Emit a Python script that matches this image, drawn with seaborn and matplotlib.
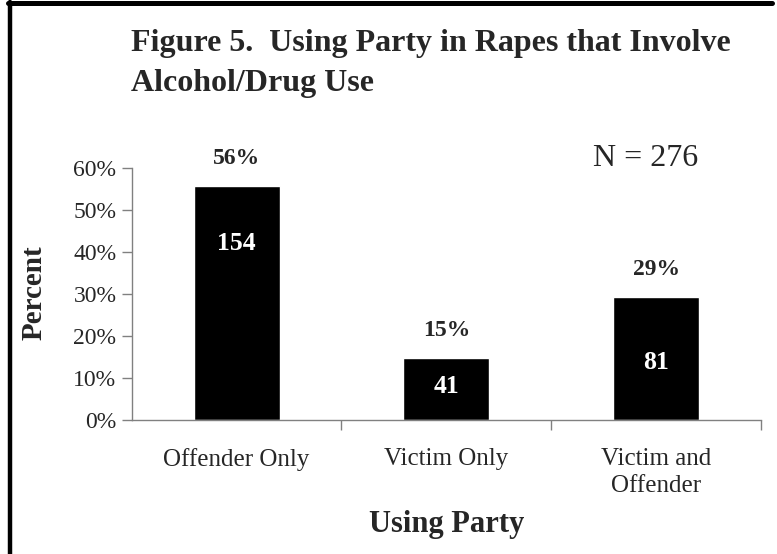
import numpy as np
import pandas as pd
import seaborn as sns
import matplotlib.pyplot as plt
from matplotlib.lines import Line2D

# data
categories = ["Offender Only", "Victim Only", "Victim and\nOffender"]
counts = [154, 41, 81]
n_total = 276
pct_labels = ["56%", "15%", "29%"]
count_label_y = [42.1, 7.9, 13.8]   # where the white count text sits (in %)

df = pd.DataFrame({"party": categories,
                   "percent": [c / n_total * 100 for c in counts]})

sns.set_style("white")
plt.rcParams["font.family"] = ["Liberation Serif", "DejaVu Serif"]

fig = plt.figure(figsize=(7.77, 5.54), dpi=100)
ax = fig.add_axes([131.7 / 777, 134 / 554, (761 - 131.7) / 777, 252 / 554])

sns.barplot(data=df, x="party", y="percent", color="black", width=0.41,
            saturation=1, ax=ax)

ax.set_xlim(-0.5, 2.5)
ax.set_ylim(0, 60)
ax.set_yticks(np.arange(0, 61, 10))
ax.set_yticklabels([f"{v}%" for v in range(0, 61, 10)], fontsize=17)
ax.tick_params(axis="y", direction="out", length=7, width=1, color="#808080",
               left=True, pad=4)
ax.set_xticks(range(3))
ax.set_xticklabels(categories, fontsize=18, linespacing=1.28)
ax.tick_params(axis="x", length=0, pad=20)
ax.set_xticks([0.5, 1.5, 2.5], minor=True)
ax.tick_params(axis="x", which="minor", direction="out", length=7, width=1,
               color="#808080", bottom=True)

for side in ["top", "right"]:
    ax.spines[side].set_visible(False)
for side in ["left", "bottom"]:
    ax.spines[side].set_color("#808080")
    ax.spines[side].set_linewidth(1)

ax.set_xlabel("Using Party", fontsize=22, fontweight="bold", labelpad=10)
ax.set_ylabel("")
fig.text(34 / 777, 1 - 293 / 554, "Percent", rotation=90, ha="center",
         va="center", fontsize=21, fontweight="bold")

for i, p in enumerate(df["percent"]):
    ax.text(i, p + 6.4, pct_labels[i], ha="center", va="center",
            fontsize=17, fontweight="bold")
    ax.text(i, count_label_y[i], str(counts[i]), ha="center", va="center",
            fontsize=18.5, fontweight="bold", color="white")

fig.text(646 / 777, 1 - 158 / 554, f"N = {n_total}", ha="center",
         va="center", fontsize=23)

fig.text(131 / 777, 1 - 44 / 554, "Figure 5.  Using Party in Rapes that Involve",
         ha="left", va="center", fontsize=23, fontweight="bold")
fig.text(131 / 777, 1 - 84 / 554, "Alcohol/Drug Use",
         ha="left", va="center", fontsize=23, fontweight="bold")

# partial frame around the chart area (left and top only, as in the source)
fig.add_artist(Line2D([10 / 777, 10 / 777], [0, 1 - 2 / 554],
                      transform=fig.transFigure, color="black", lw=3.2))
fig.add_artist(Line2D([8 / 777, 772 / 777], [1 - 2.5 / 554, 1 - 2.5 / 554],
                      transform=fig.transFigure, color="black", lw=3.6))

fig.savefig("out.png", dpi=100)
